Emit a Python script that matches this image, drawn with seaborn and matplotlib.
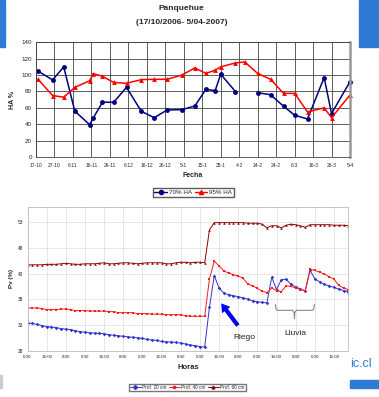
import numpy as np
import pandas as pd
import matplotlib
matplotlib.use("Agg")
import matplotlib.pyplot as plt
from matplotlib.lines import Line2D
from matplotlib.patches import Rectangle
import seaborn as sns

# --- Panquehue: humedad aprovechable (dias desde 17-10-2006) ---
dias = [1, 9, 15, 21, 29, 31, 36, 42, 49, 57, 64, 71, 79, 86, 92, 97, 100, 108,
        113, 120, 127, 134, 140, 147, 156, 160, 170]
ha_70 = [105, 94, 110, 56, 39.5, 47.6, 67, 66.7, 85, 55.8, 48, 57.4, 57.8, 62.3,
         82.6, 81, 101, 79.8, np.nan, 78.5, 76, 62, 51, 46.4, 97, 53, 92]
ha_95 = [95, 75, 73, 85, 93, 101.7, 98.5, 91, 90, 94.4, 94.8, 94.8, 100, 108.7,
         102, 106, 110, 114.8, 116, 102, 94.8, 77.7, 77.7, 55, 60, 48, 75.7]
fechas = ['17-10', '27-10', '6-11', '16-11', '26-11', '6-12', '16-12', '26-12', '5-1',
          '15-1', '25-1', '4-2', '14-2', '24-2', '6-3', '16-3', '26-3', '5-4']

# --- Pv por profundidad, cada 4 horas ---
horas = list(range(0, 272, 4))
prof_20 = [33.4, 33.3, 33.1, 32.9, 32.7, 32.6, 32.5, 32.3, 32.2, 32.1,
           31.9, 31.7, 31.6, 31.5, 31.4, 31.4, 31.3, 31.1, 31.0, 30.9,
           30.8, 30.7, 30.6, 30.5, 30.4, 30.2, 30.1, 30.0, 29.8, 29.7,
           29.7, 29.6, 29.5, 29.3, 29.1, 29.0, 28.8, 28.7,
           36.5, 42.6, 40.2, 39.2, 38.9, 38.7, 38.5, 38.3, 38.0, 37.7,
           37.5, 37.4, 37.3, 42.3, 39.9, 41.8, 41.9, 40.9, 40.4, 40.0,
           39.6, 43.6, 42.0, 41.4, 40.9, 40.6, 40.3, 40.0, 39.7, 39.5]
prof_40 = [36.3, 36.3, 36.3, 36.2, 36.0, 36.0, 36.0, 36.1, 36.1, 36.0,
           35.8, 35.8, 35.8, 35.7, 35.7, 35.7, 35.7, 35.6, 35.6, 35.4,
           35.4, 35.4, 35.4, 35.2, 35.2, 35.2, 35.1, 35.1, 35.1, 35.0,
           35.0, 35.0, 35.0, 34.8, 34.7, 34.7, 34.7, 34.7,
           42.0, 45.4, 44.5, 43.5, 43.1, 42.8, 42.5, 42.1, 41.0, 40.6,
           40.1, 39.6, 39.3, 40.2, 39.7, 39.5, 40.6, 40.5, 40.2, 39.9,
           39.7, 43.9, 43.6, 43.3, 42.9, 42.4, 41.9, 40.7, 40.2, 39.9]
prof_60 = [44.7, 44.7, 44.7, 44.7, 44.8, 44.8, 44.8, 44.9, 45.0, 44.9,
           44.8, 44.8, 44.9, 44.9, 44.9, 45.0, 45.1, 44.9, 44.9, 45.0,
           45.1, 45.1, 45.0, 44.9, 45.0, 45.1, 45.1, 45.1, 45.1, 44.9,
           44.9, 45.1, 45.2, 45.2, 45.1, 45.2, 45.2, 45.1,
           51.5, 52.9, 52.9, 52.9, 52.9, 52.9, 52.9, 52.9, 52.8, 52.8,
           52.8, 52.6, 51.9, 52.3, 52.3, 51.9, 52.4, 52.6, 52.5, 52.3,
           52.0, 52.5, 52.5, 52.5, 52.5, 52.5, 52.4, 52.4, 52.4, 52.3]
etiquetas_hora = ['0:00', '16:00', '8:00']

sns.set_style("white")
plt.rcParams['font.family'] = ['Liberation Sans', 'DejaVu Sans']

fig = plt.figure(figsize=(3.79, 3.97), dpi=100)

# ---------------- grafico superior ----------------
tramo = [0 if d < 113 else 1 for d in dias]
df_ha = pd.concat([
    pd.DataFrame({'Dia': dias, 'HA': ha_70, 'Serie': '70% HA', 'Tramo': tramo}),
    pd.DataFrame({'Dia': dias, 'HA': ha_95, 'Serie': '95% HA', 'Tramo': 0}),
], ignore_index=True)
ax1 = fig.add_axes([0.095, 0.6045, 0.8285, 0.289])
colores_ha = {'70% HA': '#000080', '95% HA': '#ff0000'}
sns.lineplot(data=df_ha, x='Dia', y='HA', hue='Serie', style='Serie', units='Tramo',
             estimator=None, palette=colores_ha, markers={'70% HA': 'o', '95% HA': '^'},
             dashes=False, markersize=3.5, markeredgewidth=0, linewidth=1.1,
             legend=False, ax=ax1)
for ln in ax1.lines:
    ln.set_clip_on(False)
ax1.set_xlim(0, 170)
ax1.set_ylim(0, 140)
ax1.set_xticks(np.arange(0, 171, 10))
ax1.set_xticklabels(fechas, fontsize=3.6)
ax1.set_yticks(np.arange(0, 141, 20))
ax1.tick_params(axis='y', labelsize=4.5, length=2, width=0.6, pad=1)
ax1.tick_params(axis='x', length=2, width=0.6, pad=2)
ax1.grid(True, color='#444444', linewidth=0.6)
for s in ax1.spines.values():
    s.set_color('#444444')
    s.set_linewidth(0.6)
ax1.spines['right'].set_color('#999999')
ax1.spines['right'].set_linewidth(1.8)
ax1.set_xlabel('Fecha', fontsize=5, fontweight='bold', labelpad=3)
ax1.set_ylabel('HA %', fontsize=5, fontweight='bold', labelpad=4)

fig.text(0.478, 0.979, 'Panquehue', ha='center', va='center', fontsize=6, fontweight='bold')
fig.text(0.48, 0.944, '(17/10/2006- 5/04-2007)', ha='center', va='center',
         fontsize=6, fontweight='bold')

h1 = [Line2D([], [], color='#000080', marker='o', markersize=3, lw=1),
      Line2D([], [], color='#ff0000', marker='^', markersize=3, lw=1)]
fig.legend(h1, ['70% HA', '95% HA'], loc='center', bbox_to_anchor=(0.51, 0.516), ncol=2,
           fontsize=4.5, frameon=True, fancybox=False, edgecolor='#333333',
           handlelength=2, handletextpad=0.3, columnspacing=0.5, borderpad=0.3)

# ---------------- grafico inferior ----------------
df_pv = pd.concat([
    pd.DataFrame({'Hora': horas, 'Pv': prof_20, 'Prof': 'Prof. 20 cm'}),
    pd.DataFrame({'Hora': horas, 'Pv': prof_40, 'Prof': 'Prof. 40 cm'}),
    pd.DataFrame({'Hora': horas, 'Pv': prof_60, 'Prof': 'Prof. 60 cm'}),
], ignore_index=True)
colores_pv = {'Prof. 20 cm': '#3333cc', 'Prof. 40 cm': '#ff1a1a', 'Prof. 60 cm': '#8b0000'}
marcas_pv = {'Prof. 20 cm': 'D', 'Prof. 40 cm': 's', 'Prof. 60 cm': '^'}
ax2 = fig.add_axes([0.0726, 0.1166, 0.8465, 0.3627])
sns.lineplot(data=df_pv, x='Hora', y='Pv', hue='Prof', style='Prof', palette=colores_pv,
             markers=marcas_pv, dashes=False, markersize=1.8, markeredgewidth=0,
             linewidth=0.7, legend=False, ax=ax2)
ax2.set_xlim(0, 268)
ax2.set_ylim(28, 56)
ticks_h = np.arange(0, 257, 16)
ax2.set_xticks(ticks_h)
ax2.set_xticklabels([etiquetas_hora[i % 3] for i in range(len(ticks_h))], fontsize=3.2)
ax2.set_yticks([28, 33, 38, 43, 48, 53])
ax2.tick_params(axis='y', labelsize=3.4, length=0, pad=3)
ax2.tick_params(axis='x', length=0, pad=3)
ax2.grid(True, color='#dddddd', linewidth=0.5)
for s in ax2.spines.values():
    s.set_color('#bbbbbb')
    s.set_linewidth(0.6)
ax2.set_xlabel('Horas', fontsize=5.5, fontweight='bold', labelpad=4)
ax2.set_ylabel('Pv (%)', fontsize=4.5, fontweight='bold', labelpad=3)

# flecha de riego y llave de lluvia
ax2.annotate('', xy=(161.8, 37.2), xytext=(175.7, 32.9),
             arrowprops=dict(arrowstyle='simple,head_length=0.75,head_width=0.95,tail_width=0.38',
                             mutation_scale=8, color='#0000ee', lw=0, shrinkA=0, shrinkB=0))
ax2.text(181, 30.6, 'Riego', fontsize=6, color='#222222', ha='center', va='center')
ax2.text(223.5, 31.3, 'Lluvia', fontsize=6, color='#222222', ha='center', va='center')
llave_x = [207.1, 207.6, 208.8, 221.5, 222.7, 223, 223.3, 224.5, 237.9, 239.1, 239.6]
llave_y = [37.0, 36.1, 35.85, 35.85, 35.4, 34.25, 35.4, 35.85, 35.85, 36.1, 37.0]
ax2.plot(llave_x, llave_y, color='#888888', lw=0.8)

h2 = [Line2D([], [], color=colores_pv[k], marker=marcas_pv[k], markersize=2, lw=0.7)
      for k in colores_pv]
fig.legend(h2, list(colores_pv), loc='center', bbox_to_anchor=(0.494, 0.024), ncol=3,
           fontsize=3.4, frameon=True, fancybox=False, edgecolor='#555555',
           handlelength=2.2, handletextpad=0.3, columnspacing=0.6, borderpad=0.3)

# adornos de la diapositiva
azul = '#2e7bd6'
fig.patches.append(Rectangle((0, 1 - 47 / 397), 5 / 379, 47 / 397, transform=fig.transFigure,
                             color=azul, zorder=0))
fig.patches.append(Rectangle((359 / 379, 1 - 47 / 397), 20 / 379, 47 / 397,
                             transform=fig.transFigure, color=azul, zorder=0))
fig.patches.append(Rectangle((350 / 379, 1 - 388 / 397), 29 / 379, 8 / 397,
                             transform=fig.transFigure, color=azul, zorder=0))
fig.patches.append(Rectangle((0, 1 - 388 / 397), 2 / 379, 13 / 397,
                             transform=fig.transFigure, color='#cccccc', zorder=0))
fig.text(350 / 379, 1 - 367 / 397, 'ic.cl', fontsize=9, color=azul, ha='left', va='baseline')

fig.savefig('out.png', dpi=100)
